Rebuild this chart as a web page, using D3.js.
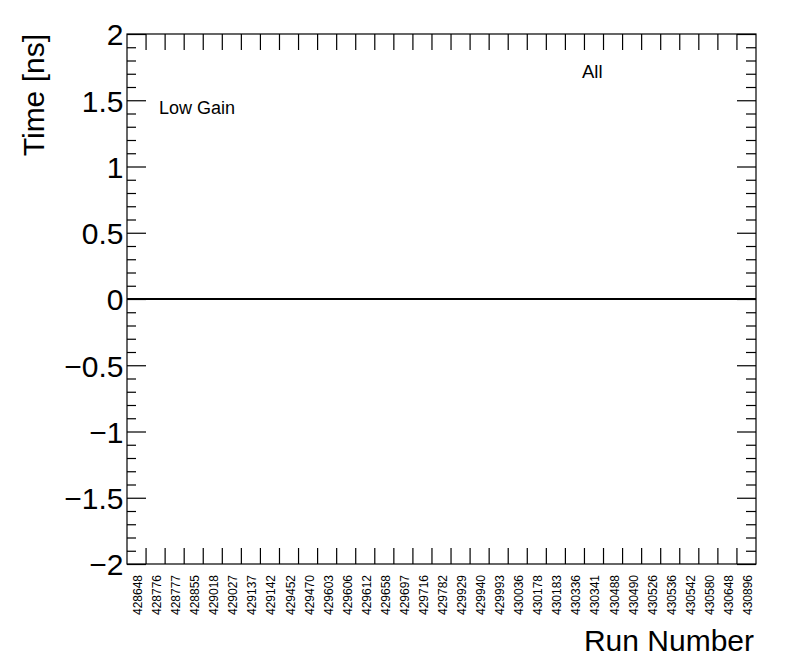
<!DOCTYPE html>
<html>
<head>
<meta charset="utf-8">
<script src="https://cdn.jsdelivr.net/npm/d3@7"></script>
<style>
  html, body { margin: 0; padding: 0; background: #fff; }
  svg { display: block; font-family: "Liberation Sans", Arial, Helvetica, sans-serif; }
</style>
</head>
<body>
<svg id="chart" width="796" height="672"></svg>
<script>
const runNumbers = ["428648","428776","428777","428855","429018","429027","429137","429142","429452","429470","429603","429606","429612","429658","429697","429716","429782","429929","429940","429993","430036","430178","430183","430336","430341","430488","430490","430526","430536","430542","430580","430648","430896"];
const timeValues = [0,0,0,0,0,0,0,0,0,0,0,0,0,0,0,0,0,0,0,0,0,0,0,0,0,0,0,0,0,0,0,0,0];
const yMajorTicks = [-2, -1.5, -1, -0.5, 0, 0.5, 1, 1.5, 2];
const yMinorTicks = [-1.9,-1.8,-1.7,-1.6,-1.4,-1.3,-1.2,-1.1,-0.9,-0.8,-0.7,-0.6,-0.4,-0.3,-0.2,-0.1,0.1,0.2,0.3,0.4,0.6,0.7,0.8,0.9,1.1,1.2,1.3,1.4,1.6,1.7,1.8,1.9];
const yTitle = "Time [ns]";
const xTitle = "Run Number";
const label1 = "Low Gain";
const label2 = "All";

(function () {
const pL = 127, pR = 756, pT = 34, pB = 564;
const svg = d3.select("#chart");

const x = d3.scaleBand().domain(runNumbers).range([pL, pR]).paddingInner(0).paddingOuter(0);
const y = d3.scaleLinear().domain([-2, 2]).range([pB, pT]);

const fmt = v => (v < 0 ? "\u2212" : "") + String(Math.abs(v));

// frame
svg.append("rect").attr("x", pL).attr("y", pT).attr("width", pR - pL).attr("height", pB - pT)
  .attr("fill", "none").attr("stroke", "#000").attr("stroke-width", 1.2);

// Left axis
const leftAxis = d3.axisLeft(y).tickValues(yMajorTicks).tickSizeInner(-19).tickSizeOuter(0).tickPadding(3.5).tickFormat(fmt);
const gL = svg.append("g").attr("transform", `translate(${pL},0)`).call(leftAxis);
gL.select(".domain").remove();
gL.selectAll("line").attr("stroke", "#000").attr("stroke-width", 1.2);
gL.selectAll("text").attr("font-size", 30).attr("fill", "#000").attr("dy", "0.36em")
  .attr("font-family", "'Liberation Sans', Arial, sans-serif");
const gLm = svg.append("g").attr("transform", `translate(${pL},0)`)
  .call(d3.axisLeft(y).tickValues(yMinorTicks).tickSizeInner(-9).tickSizeOuter(0).tickFormat(""));
gLm.select(".domain").remove();
gLm.selectAll("line").attr("stroke", "#000").attr("stroke-width", 1.2);

// Right axis ticks
const gR = svg.append("g").attr("transform", `translate(${pR},0)`)
  .call(d3.axisRight(y).tickValues(yMajorTicks).tickSizeInner(-19).tickSizeOuter(0).tickFormat(""));
gR.select(".domain").remove();
gR.selectAll("line").attr("stroke", "#000").attr("stroke-width", 1.2);
const gRm = svg.append("g").attr("transform", `translate(${pR},0)`)
  .call(d3.axisRight(y).tickValues(yMinorTicks).tickSizeInner(-10).tickSizeOuter(0).tickFormat(""));
gRm.select(".domain").remove();
gRm.selectAll("line").attr("stroke", "#000").attr("stroke-width", 1.2);

// X ticks at bin boundaries (bottom and top)
const boundaries = runNumbers.slice(1).map(r => x(r));
svg.append("g").selectAll("line").data(boundaries).join("line")
  .attr("x1", d => d).attr("x2", d => d).attr("y1", pB).attr("y2", pB - 16)
  .attr("stroke", "#000").attr("stroke-width", 1.2);
svg.append("g").selectAll("line").data(boundaries).join("line")
  .attr("x1", d => d).attr("x2", d => d).attr("y1", pT).attr("y2", pT + 16)
  .attr("stroke", "#000").attr("stroke-width", 1.2);

// X labels (rotated)
svg.append("g").selectAll("text").data(runNumbers).join("text")
  .attr("transform", d => `translate(${x(d) + x.bandwidth() / 2 + 5.5},${pB + 11}) rotate(-90)`)
  .attr("text-anchor", "end").attr("font-size", 12).attr("fill", "#000")
  .text(d => d);

// Data line (histogram-style steps across bins)
const pts = [];
runNumbers.forEach((r, i) => {
  pts.push([x(r), y(timeValues[i])]);
  pts.push([x(r) + x.bandwidth(), y(timeValues[i])]);
});
svg.append("path").attr("d", d3.line()(pts)).attr("fill", "none").attr("stroke", "#000").attr("stroke-width", 2.2);

// Titles
svg.append("text").attr("transform", `translate(44,${pT}) rotate(-90)`)
  .attr("text-anchor", "end").attr("font-size", 30).attr("fill", "#000").text(yTitle);
svg.append("text").attr("x", pR - 2).attr("y", 651)
  .attr("text-anchor", "end").attr("font-size", 30).attr("fill", "#000").text(xTitle);

svg.append("text").attr("x", 159).attr("y", 114).attr("font-size", 18).attr("fill", "#000").text(label1);
svg.append("text").attr("x", 582).attr("y", 78).attr("font-size", 18.5).attr("fill", "#000").text(label2);
})();
</script>
</body>
</html>
